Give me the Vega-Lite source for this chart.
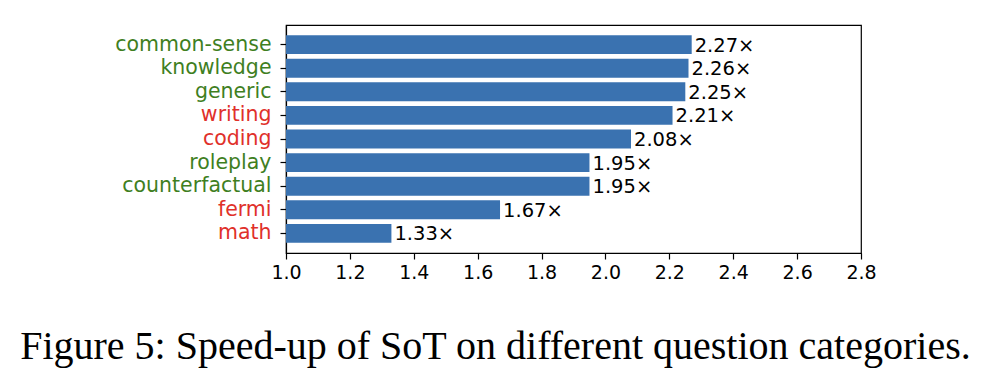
{
  "$schema": "https://vega.github.io/schema/vega-lite/v6.json",
  "autosize": "none",
  "width": 575,
  "height": 228,
  "padding": {"left": 286, "top": 25, "right": 121, "bottom": 129},
  "background": "white",
  "config": {
    "view": {"stroke": "black", "strokeWidth": 1.2},
    "font": "DejaVu Sans"
  },
  "title": {
    "text": "Figure 5: Speed-up of SoT on different question categories.",
    "orient": "bottom",
    "anchor": "middle",
    "frame": "bounds",
    "font": "Liberation Serif",
    "fontSize": 40,
    "fontWeight": "normal",
    "color": "black",
    "offset": 45
  },
  "data": {
    "values": [
      {"category": "common-sense", "speedup": 2.27, "label": "2.27×", "type": "good"},
      {"category": "knowledge", "speedup": 2.26, "label": "2.26×", "type": "good"},
      {"category": "generic", "speedup": 2.25, "label": "2.25×", "type": "good"},
      {"category": "writing", "speedup": 2.21, "label": "2.21×", "type": "bad"},
      {"category": "coding", "speedup": 2.08, "label": "2.08×", "type": "bad"},
      {"category": "roleplay", "speedup": 1.95, "label": "1.95×", "type": "good"},
      {"category": "counterfactual", "speedup": 1.95, "label": "1.95×", "type": "good"},
      {"category": "fermi", "speedup": 1.67, "label": "1.67×", "type": "bad"},
      {"category": "math", "speedup": 1.33, "label": "1.33×", "type": "bad"}
    ]
  },
  "encoding": {
    "y": {
      "field": "category",
      "type": "nominal",
      "sort": null,
      "scale": {"paddingInner": 0.2, "paddingOuter": 0.43},
      "axis": {
        "title": null,
        "domain": true,
        "domainColor": "black",
        "domainWidth": 1.2,
        "ticks": true,
        "tickColor": "black",
        "tickSize": 6,
        "tickWidth": 1.2,
        "labelPadding": 9,
        "labelFont": "DejaVu Sans",
        "labelFontSize": 20.5,
        "labelBaseline": "middle",
        "labelColor": {
          "condition": {"test": "indexof(['writing','coding','fermi','math'], datum.value) >= 0", "value": "#e0302a"},
          "value": "#3f7f1f"
        }
      }
    }
  },
  "layer": [
    {
      "mark": {"type": "bar", "color": "#3a72b0", "clip": true},
      "encoding": {
        "x": {
          "field": "speedup",
          "type": "quantitative",
          "scale": {"domain": [1.0, 2.8], "zero": false, "nice": false},
          "axis": {
            "title": null,
            "values": [1.0, 1.2, 1.4, 1.6, 1.8, 2.0, 2.2, 2.4, 2.6, 2.8],
            "format": ".1f",
            "grid": false,
            "domainColor": "black",
            "domainWidth": 1.2,
            "tickColor": "black",
            "tickSize": 6,
            "tickWidth": 1.2,
            "labelPadding": 4,
            "labelFont": "DejaVu Sans",
            "labelFontSize": 19,
            "labelColor": "black",
            "labelFlush": false
          }
        },
        "x2": {"datum": 1.0}
      }
    },
    {
      "mark": {"type": "text", "align": "left", "baseline": "middle", "dx": 3, "dy": 1, "font": "DejaVu Sans", "fontSize": 19.5, "color": "black"},
      "encoding": {
        "x": {"field": "speedup", "type": "quantitative"},
        "text": {"field": "label"}
      }
    }
  ]
}
